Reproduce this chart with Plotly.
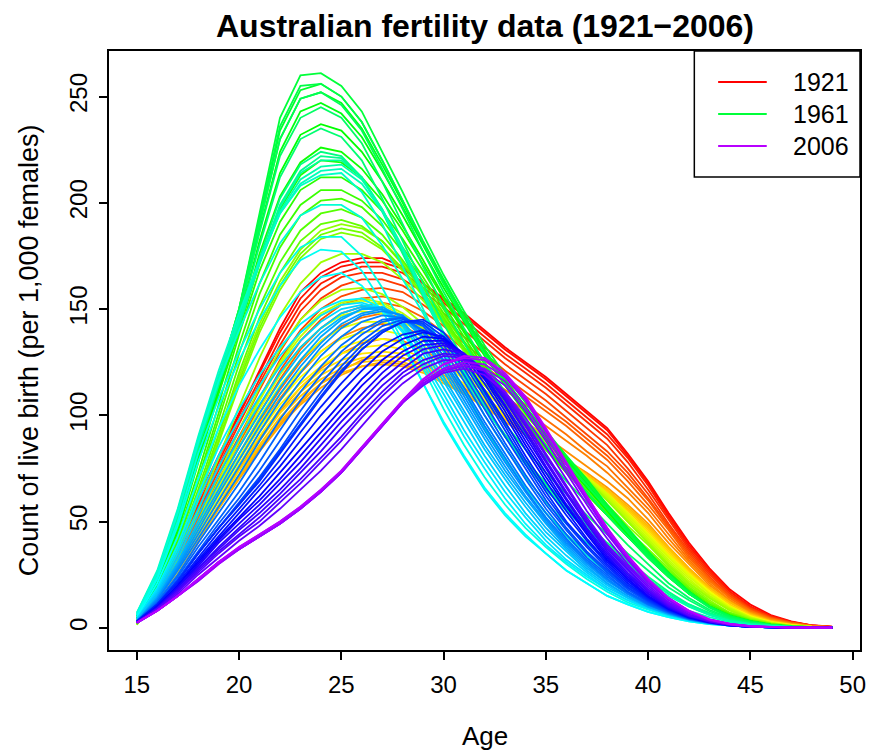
import colorsys
import plotly.graph_objects as go

ages = list(range(15, 50))
years = list(range(1921, 2007))

r1920s = [
    [5,20,40,61,81,101,121,141,158,167,172,174,174,170,162,155,148,140,132,125,118,110,102,94,82,69,54,40,28,18,11,6,3,1.2,0.5],
    [5,19,39,60,80,100,120,139,155,165,170,172,172,169,162,154,147,139,131,124,117,109,101,93,81,68,53,39,27,17,10,5.5,2.8,1.1,0.4],
    [5,19,38,58,78,98,117,136,152,162,167,170,170,167,160,153,145,137,129,122,115,107,99,91,80,67,52,38,27,17,10,5.5,2.7,1.1,0.4],
    [4,18,37,57,76,96,115,133,149,159,165,167,167,164,158,151,143,135,127,120,113,105,97,89,78,65,51,37,26,16,9.5,5,2.6,1,0.4],
    [4,18,36,55,74,93,112,130,145,155,161,164,164,161,155,148,140,132,124,117,110,102,94,86,75,63,49,36,25,16,9,5,2.5,1,0.4],
    [4,17,35,54,72,90,108,126,140,150,156,159,160,158,152,145,137,129,121,114,107,99,91,83,73,61,48,35,24,15,9,4.8,2.4,1,0.4],
    [4,16,34,52,70,87,104,121,135,145,152,155,156,154,149,142,134,126,118,111,104,97,89,81,71,60,47,34,23,15,8.5,4.5,2.3,0.9,0.3],
    [4,16,33,51,68,85,101,117,131,141,148,151,153,151,146,139,131,123,116,109,102,95,87,79,69,58,46,33,23,14,8,4.4,2.2,0.9,0.3],
    [4,15,32,49,66,82,97,112,125,135,142,146,148,146,141,134,127,119,112,105,98,91,83,76,66,56,44,32,22,14,8,4.2,2.1,0.8,0.3],
]
r1930s = [
    [3,15,31,48,64,79,94,108,120,130,137,141,143,142,137,131,124,117,109,102,95,88,81,73,64,54,42,31,21,13,7.5,4,2,0.8,0.3],
    [3,14,29,45,60,75,89,102,113,122,129,134,136,135,131,125,118,111,104,97,90,83,76,69,61,51,40,30,20,13,7,3.8,1.8,0.7,0.3],
    [3,13,27,42,57,71,84,96,106,115,121,126,128,127,124,119,113,106,99,93,86,79,73,66,58,49,38,28,19,12,7,3.5,1.7,0.7,0.2],
    [3,12,26,41,56,70,83,95,105,113,119,123,125,124,121,116,110,104,97,91,84,77,71,64,56,47,37,27,19,12,6.5,3.3,1.6,0.6,0.2],
    [3,12,25,40,56,71,85,97,107,115,120,123,124,123,120,115,110,104,98,92,86,79,72,65,57,48,38,28,19,12,6.5,3.2,1.5,0.6,0.2],
    [3,12,26,41,57,72,86,99,109,117,122,125,126,125,122,117,111,105,99,93,86,79,72,65,56,47,37,27,18,11,6,3,1.4,0.6,0.2],
    [3,12,26,42,58,74,88,101,111,119,124,127,128,127,123,118,112,106,99,93,86,79,71,64,55,46,36,26,18,11,6,3,1.4,0.5,0.2],
    [3,13,27,43,60,76,90,103,113,121,126,129,130,129,125,120,114,107,100,93,86,78,71,63,54,45,35,26,17,10,5.5,2.8,1.3,0.5,0.2],
    [3,13,27,44,61,77,92,105,115,123,129,132,133,131,127,121,115,108,100,93,86,78,70,62,53,44,34,25,17,10,5.5,2.7,1.2,0.5,0.2],
    [3,13,28,45,62,79,94,107,118,126,132,135,136,134,130,124,117,109,101,94,86,78,70,62,53,44,34,25,17,10,5.2,2.6,1.1,0.4,0.1],
]
r1940s = [
    [3,13,28,45,63,80,96,110,121,130,136,139,140,138,133,126,119,111,103,95,87,79,71,63,54,44,34,25,17,10,5,2.5,1,0.4,0.1],
    [3,13,28,46,64,82,99,114,126,135,141,144,144,141,135,128,120,112,104,96,88,80,71,63,54,44,34,25,16,10,5,2.5,1,0.4,0.1],
    [3,13,29,47,66,85,103,119,132,141,147,149,148,144,138,130,122,114,105,97,89,80,71,63,53,43,33,24,16,9.5,5,2.4,1,0.4,0.1],
    [3,13,29,48,68,88,107,124,137,147,152,154,152,147,140,132,123,114,105,97,88,79,70,62,52,42,32,23,15,9,4.8,2.3,1,0.4,0.1],
    [2,13,29,48,69,89,108,125,139,148,153,155,153,148,141,133,124,115,106,97,88,79,70,61,51,41,31,22,15,9,4.6,2.2,1,0.4,0.1],
    [2,13,30,50,72,93,113,131,145,154,159,160,157,151,143,134,125,115,106,97,88,79,70,60,50,40,30,21,14,8.5,4.4,2.1,0.9,0.3,0.1],
    [2,14,32,55,80,104,127,147,162,172,176,176,172,164,154,143,132,121,110,100,90,80,70,60,50,40,30,21,14,8,4.2,2,0.9,0.3,0.1],
    [1.5,16,36,62,90,118,143,163,178,187,190,188,182,172,160,147,134,121,109,98,88,78,68,58,48,39,29,20,13,7,4,2,0.8,0.3,0.1],
    [1.5,16,35,60,87,114,139,159,174,183,186,184,178,168,156,143,130,118,106,95,85,75,66,56,46,37,28,19,12,7,3.8,1.9,0.8,0.3,0.1],
    [2,16,36,61,88,116,141,161,176,185,188,186,179,169,157,144,131,118,106,95,85,75,65,55,45,36,27,19,12,7,3.7,1.8,0.8,0.3,0.1],
]
r1950s = [
    [2,17,37,63,91,120,146,167,182,190,192,189,182,171,158,145,131,118,106,95,84,74,64,54,44,35,26,18,11,6.5,3.5,1.7,0.7,0.3,0.1],
    [2,17,38,65,94,124,151,172,187,195,197,193,185,173,160,146,132,119,107,95,84,74,64,54,44,35,26,18,11,6.5,3.4,1.6,0.7,0.3,0.1],
    [2,18,40,68,98,129,157,179,194,201,202,198,189,177,163,148,134,120,107,95,84,73,63,53,43,34,25,17,11,6.2,3.3,1.6,0.7,0.3,0.1],
    [3,18,41,70,101,133,162,185,199,206,206,201,192,179,165,150,135,121,108,96,84,73,63,53,43,34,25,17,10,6,3.2,1.5,0.6,0.2,0.1],
    [3,19,43,73,105,138,168,191,206,212,212,206,196,183,168,152,137,122,109,96,85,74,63,53,43,33,24,16,10,6,3.1,1.5,0.6,0.2,0.1],
    [4,20,45,77,110,140,172,197,213,220,219,212,201,187,171,155,139,124,110,97,85,74,63,53,43,33,24,16,10,5.5,3,1.4,0.6,0.2,0.1],
    [4,20,46,79,112,142,176,203,219,226,224,216,204,189,173,156,140,125,111,98,86,75,64,53,43,33,24,16,10,5.5,3,1.4,0.6,0.2,0.1],
    [4,21,48,80,112,145,182,214,232,237,234,224,210,194,177,160,144,128,114,101,89,77,66,55,44,34,25,17,10,5.5,3,1.4,0.6,0.2,0.1],
    [4,22,50,83,115,147,187,224,243,247,242,231,215,198,180,162,146,130,116,103,91,79,68,56,45,35,26,17,10,5.5,3,1.4,0.6,0.2,0.1],
    [5,23,51,84,116,148,190,230,249,252,247,235,218,200,181,163,147,131,117,104,92,80,69,57,46,36,26,17,10,5.5,3,1.4,0.6,0.2,0.1],
]
r1960s = [
    [5,23,52,85,116,149,192,234,253,256,250,238,220,201,182,164,147,131,117,104,92,81,70,58,47,36,26,17,10,5.5,3,1.4,0.6,0.2,0.1],
    [5,24,52,86,117,150,195,240,260,261,255,243,224,205,185,166,149,133,119,106,93,81,69,57,46,35,25,17,10,5.5,3,1.5,0.7,0.3,0.1],
    [5,24,52,86,117,150,193,236,255,256,250,238,220,201,181,162,145,129,115,102,90,78,67,56,45,34,25,16,10,5.5,3,1.4,0.6,0.2,0.1],
    [5,24,52,86,117,150,190,230,249,252,246,234,216,197,177,158,141,125,111,98,86,75,64,53,43,33,24,16,9.5,5,2.7,1.3,0.5,0.2,0.1],
    [5,24,52,86,117,148,186,222,240,245,240,228,210,190,170,151,134,118,104,91,80,69,59,49,39,30,21,14,8.5,4.6,2.5,1.2,0.5,0.2,0.1],
    [5,24,52,85,115,145,180,212,230,235,231,220,202,182,162,143,126,110,96,84,73,63,53,44,35,27,19,13,7.8,4.2,2.2,1.1,0.5,0.2,0.1],
    [5,24,52,85,114,142,174,202,218,224,222,212,196,176,156,137,120,104,91,79,68,58,49,40,32,24,17,11,7,3.8,2,1,0.4,0.2,0.1],
    [5,25,53,86,115,142,172,199,215,222,221,212,196,177,157,138,120,104,90,78,67,57,48,39,31,23,16,11,6.5,3.5,1.8,0.9,0.4,0.2,0.1],
    [6,25,54,87,116,143,172,198,214,220,220,212,197,178,158,138,120,104,90,77,66,56,47,38,30,22,16,10,6.2,3.3,1.7,0.8,0.4,0.1,0.05],
    [6,26,55,88,117,144,171,196,211,217,218,211,197,179,159,139,121,104,90,77,65,55,46,37,29,21,15,10,6,3.2,1.6,0.8,0.3,0.1,0.05],
]
r1970s = [
    [6,26,55,89,119,146,172,195,209,215,216,209,196,178,157,137,118,100,85,71,59,49,40,32,25,18,12,8,5,2.7,1.4,0.7,0.3,0.1,0.05],
    [7,27,56,90,121,148,173,195,208,213,214,205,190,170,150,130,111,94,79,66,54,44,35,27,20,14,9.5,6,3.5,1.9,1,0.5,0.2,0.1,0.05],
    [7,26,54,87,116,140,162,181,194,199,199,193,180,164,148,130,112,95,80,66,54,43,34,26,19,13,9,5.5,3.2,1.7,0.9,0.4,0.2,0.1,0.05],
    [6,24,50,82,108,130,150,167,179,184,184,175,160,142,122,103,86,71,58,47,38,30,23,17,12,8.5,5.5,3.4,2,1.1,0.5,0.2,0.1,0.05,0.02],
    [6,23,48,78,104,126,145,161,173,178,177,168,153,135,115,96,80,65,53,43,35,27,21,15,11,7.5,5,3,1.8,1,0.5,0.2,0.1,0.05,0.02],
    [5,21,43,70,94,114,131,146,158,165,167,161,149,133,115,97,81,66,54,44,35,27,21,15,11,7.5,5,3,1.8,1,0.5,0.2,0.1,0.05,0.02],
    [4,19,39,63,85,103,119,132,143,150,154,155,150,139,124,107,90,75,61,49,39,31,24,18,13,9,6,3.5,2,1.1,0.5,0.2,0.1,0.05,0.02],
    [4,18,37,60,81,98,114,128,139,147,152,153,150,140,126,110,93,78,64,52,41,32,25,18,13,9,6,3.5,2,1.1,0.5,0.2,0.1,0.05,0.02],
    [4,17,35,56,76,93,109,123,135,144,150,152,150,142,129,113,97,81,67,54,43,34,26,19,14,9.5,6.2,3.7,2.1,1.1,0.5,0.2,0.1,0.05,0.02],
    [4,16,33,53,72,89,105,120,132,141,148,151,150,143,131,116,100,84,70,57,45,36,27,20,14,10,6.4,3.8,2.1,1.1,0.5,0.2,0.1,0.05,0.02],
]
r1980s = [
    [3,15,31,50,68,85,101,116,129,139,146,150,150,144,133,118,102,86,72,59,47,37,28,21,15,10,6.5,3.9,2.2,1.1,0.5,0.2,0.1,0.05,0.02],
    [3,14,30,48,65,82,98,113,126,137,145,150,151,146,136,121,105,89,74,61,49,38,29,21,15,10,6.6,4,2.2,1.1,0.5,0.2,0.1,0.05,0.02],
    [3,14,29,46,63,79,95,110,123,134,143,148,150,147,137,123,107,91,76,62,50,39,30,22,16,10.5,6.8,4,2.2,1.1,0.5,0.2,0.1,0.05,0.02],
    [3,13,28,44,60,76,92,107,120,132,141,147,149,147,139,125,109,93,78,64,51,40,31,23,16,11,7,4.1,2.3,1.1,0.5,0.2,0.1,0.05,0.02],
    [3,13,27,42,57,72,88,103,116,128,137,144,147,146,139,126,111,95,80,65,52,41,31,23,16,11,7,4.1,2.3,1.1,0.5,0.2,0.1,0.05,0.02],
    [3,12,25,40,54,68,83,98,111,123,133,140,145,146,140,128,113,97,82,67,54,42,32,24,17,11,7.2,4.2,2.3,1.2,0.5,0.2,0.1,0.05,0.02],
    [3,12,24,38,51,64,78,93,107,119,130,138,144,146,142,131,116,100,85,70,56,44,33,25,17,11.5,7.4,4.3,2.4,1.2,0.5,0.2,0.1,0.05,0.02],
    [3,11,23,36,49,61,74,88,102,115,126,135,142,145,143,133,119,103,87,72,58,46,35,26,18,12,7.6,4.4,2.4,1.2,0.5,0.2,0.1,0.05,0.02],
    [3,11,22,35,47,59,71,84,98,111,123,133,140,144,143,135,122,106,90,75,60,47,36,27,19,12.5,7.8,4.5,2.5,1.2,0.5,0.2,0.1,0.05,0.02],
    [3,11,22,35,47,58,70,83,96,109,121,131,139,144,144,137,124,109,93,77,62,49,38,28,19,13,8,4.6,2.5,1.2,0.5,0.2,0.1,0.05,0.02],
]
r1990s = [
    [3,11,22,35,47,58,69,82,95,108,120,131,139,144,145,139,127,111,95,79,64,50,39,29,20,13.5,8.3,4.7,2.6,1.2,0.5,0.2,0.1,0.05,0.02],
    [3,11,21,33,45,56,67,79,92,104,115,125,133,138,140,136,126,112,97,81,66,53,41,30,21,14,8.5,4.8,2.6,1.2,0.5,0.2,0.1,0.05,0.02],
    [2.5,10,20,32,43,54,65,76,88,100,111,121,130,136,139,137,128,115,100,84,69,55,42,31,22,14.5,8.8,4.9,2.7,1.3,0.5,0.2,0.1,0.05,0.02],
    [2.5,10,20,31,42,52,62,73,84,95,106,117,126,133,137,136,129,117,102,86,71,57,44,32,23,15,9,5,2.7,1.3,0.6,0.2,0.1,0.05,0.02],
    [2.5,10,19,30,41,51,60,70,81,92,103,114,123,130,135,135,129,118,104,88,73,58,45,33,23,15,9.2,5.1,2.8,1.3,0.6,0.2,0.1,0.05,0.02],
    [2.5,9.5,19,29,40,49,58,68,78,89,100,110,120,128,133,134,129,119,105,90,75,60,46,34,24,16,9.5,5.3,2.8,1.3,0.6,0.2,0.1,0.05,0.02],
    [2.5,9.5,18,28,38,47,56,65,75,86,97,107,117,125,131,133,129,120,107,92,76,61,47,35,25,16,10,5.5,2.9,1.4,0.6,0.2,0.1,0.05,0.02],
    [2.5,9,18,28,37,46,54,63,73,83,94,104,114,122,129,131,129,121,108,93,78,63,49,36,26,17,10,5.6,3,1.4,0.6,0.2,0.1,0.05,0.02],
    [2.5,9,17,27,36,44,52,61,70,80,90,101,111,120,126,129,128,121,109,95,79,64,50,37,27,17.5,10.5,5.8,3,1.4,0.6,0.2,0.1,0.05,0.02],
    [2.5,9,17,26,35,43,50,59,68,78,88,99,109,118,124,128,127,121,110,96,81,66,51,38,28,18,11,6,3.1,1.5,0.6,0.2,0.1,0.05,0.02],
]
r2000s = [
    [2.4,8.5,16,25,33,41,48,56,65,74,84,95,106,115,122,126,126,121,111,97,82,67,52,39,29,19,11.5,6.2,3.2,1.5,0.6,0.2,0.1,0.05,0.02],
    [2.3,8,15,23,31,37,43,49,56,64,73,84,95,106,114,120,122,119,111,99,85,70,55,42,30,20,12,7,3.5,1.6,0.7,0.3,0.1,0.05,0.02],
    [2.3,8,15,23,31,37,43,49,56,64,73,84,95,106,115,121,123,121,114,102,88,73,58,44,32,21,13,7.2,3.6,1.7,0.7,0.3,0.1,0.05,0.02],
    [2.3,8,15,22,30,37,43,49,56,64,73,84,95,106,115,121,124,122,116,104,90,75,60,45,33,22,13.5,7.5,3.7,1.7,0.7,0.3,0.1,0.05,0.02],
    [2.4,8,15,22,30,37,43,49,56,64,73,84,95,106,116,122,125,124,118,107,92,77,61,46,34,22.5,14,7.8,3.8,1.8,0.8,0.3,0.1,0.05,0.02],
    [2.5,8,15,23,31,38,44,50,57,65,74,85,96,107,117,124,127,126,119,108,93,77,62,47,34,23,14,8,4,1.8,0.8,0.3,0.12,0.05,0.02],
    [2.5,8,15,23,31,38,44,50,57,65,74,85,96,107,117,124,128,127,120,109,94,78,62,47,34,23,14,8,4,1.8,0.8,0.3,0.12,0.05,0.02],
]

all_rates = r1920s + r1930s + r1940s + r1950s + r1960s + r1970s + r1980s + r1990s + r2000s
legend_years = [1921, 1961, 2006]

n_col = 108


def year_color(i):
    r, g, b = colorsys.hsv_to_rgb(i / n_col, 1.0, 1.0)
    return "rgb(%d,%d,%d)" % (round(r * 255), round(g * 255), round(b * 255))


FONT = "Liberation Sans, Arial, Helvetica, sans-serif"

fig = go.Figure()
for i, (yr, vals) in enumerate(zip(years, all_rates)):
    fig.add_trace(go.Scatter(
        x=ages, y=vals, mode="lines", name=str(yr),
        line=dict(color=year_color(i), width=1.8),
        showlegend=False, hoverinfo="x+y+name",
    ))

fig.update_layout(
    width=875, height=751,
    margin=dict(l=109, r=9, t=51, b=101),
    paper_bgcolor="white", plot_bgcolor="white",
    font=dict(family=FONT, size=24, color="black"),
    showlegend=False,
)
fig.update_xaxes(
    range=[13.64, 50.36], tickmode="array", tickvals=[15, 20, 25, 30, 35, 40, 45, 50],
    ticks="outside", ticklen=8, tickwidth=1.5, tickcolor="black",
    showline=True, linecolor="black", linewidth=1.5, mirror=True,
    showgrid=False, zeroline=False, tickfont=dict(size=24), ticklabelstandoff=4,
)
fig.update_yaxes(
    range=[-10.44, 271.44], tickmode="array", tickvals=[0, 50, 100, 150, 200, 250],
    ticks="outside", ticklen=8, tickwidth=1.5, tickcolor="black",
    showline=True, linecolor="black", linewidth=1.5, mirror=True,
    showgrid=False, zeroline=False, tickangle=-90, tickfont=dict(size=24), ticklabelstandoff=3,
)

# Title and axis titles
fig.add_annotation(text="<b>Australian fertility data (1921\u22122006)</b>", xref="paper", yref="paper",
                   x=0.5, y=1.041, xanchor="center", yanchor="middle", showarrow=False,
                   font=dict(size=32, family=FONT))
fig.add_annotation(text="Age", xref="paper", yref="paper", x=0.5, y=-0.143,
                   xanchor="center", yanchor="middle", showarrow=False, font=dict(size=26, family=FONT))
fig.add_annotation(text="Count of live birth (per 1,000 females)", xref="paper", yref="paper",
                   x=-0.107, y=0.5, xanchor="center", yanchor="middle", textangle=-90,
                   showarrow=False, font=dict(size=27, family=FONT))

# Legend box (top right)
px_w, px_h = 757.0, 599.0
def pxx(p):
    return (p - 109) / px_w
def pxy(p):
    return (650 - p) / px_h

fig.add_shape(type="rect", xref="paper", yref="paper", x0=pxx(699), x1=1.0, y0=pxy(177), y1=1.0,
              line=dict(color="black", width=1.5), fillcolor="white", layer="above")
for k, yr in enumerate(legend_years):
    yy = pxy(82 + 32 * k)
    col = year_color(years.index(yr))
    fig.add_shape(type="line", xref="paper", yref="paper", x0=pxx(723), x1=pxx(772), y0=yy, y1=yy,
                  line=dict(color=col, width=2), layer="above")
    fig.add_annotation(text=str(yr), xref="paper", yref="paper", x=pxx(796), y=yy,
                       xanchor="left", yanchor="middle", showarrow=False,
                       font=dict(size=25, family=FONT))

fig.write_html("out.html", config={"displayModeBar": False})

# remove the browser's default page margin so the figure sits at the top-left corner
with open("out.html", "r", encoding="utf-8") as fh:
    html = fh.read()
html = html.replace("<head>", "<head><style>html,body{margin:0;padding:0;}</style>", 1)
with open("out.html", "w", encoding="utf-8") as fh:
    fh.write(html)
